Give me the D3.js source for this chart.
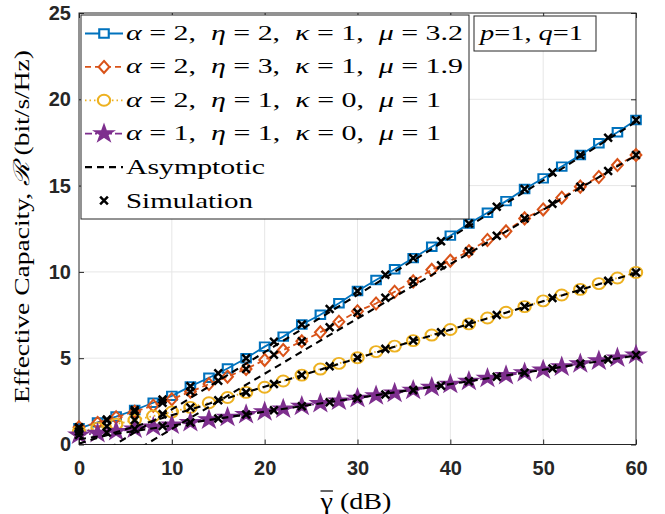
<!DOCTYPE html>
<html>
<head>
<meta charset="utf-8">
<script src="https://cdn.jsdelivr.net/npm/d3@7"></script>
<style>
  body { margin: 0; background: #fff; }
  svg { display: block; }
  .axis text { font-family: 'Liberation Sans', Arial, sans-serif; font-weight: bold; font-size: 20px; fill: #262626; }
  .axis line { stroke: #262626; }
  .latex { font-family: 'Liberation Serif', 'Times New Roman', serif; fill: #000; }
</style>
</head>
<body>
<svg width="665" height="514"></svg>
<script>
/* globals d3: true */

const gammaDb = [0, 2, 4, 6, 8, 10, 12, 14, 16, 18, 20, 22, 24, 26, 28, 30,
  32, 34, 36, 38, 40, 42, 44, 46, 48, 50, 52, 54, 56, 58, 60];
const blueCap = [0.94, 1.28, 1.62, 2.0, 2.42, 2.82, 3.37, 3.87, 4.4, 5.0, 5.67,
  6.25, 6.95, 7.52, 8.18, 8.89, 9.53, 10.15, 10.8, 11.46, 12.1, 12.8, 13.43,
  14.1, 14.8, 15.42, 16.1, 16.77, 17.45, 18.09, 18.8];
const orangeCap = [1.0, 1.25, 1.58, 1.9, 2.25, 2.62, 3.06, 3.5, 3.93, 4.38, 4.9,
  5.47, 5.98, 6.5, 7.11, 7.72, 8.17, 8.85, 9.45, 10.12, 10.65, 11.2, 11.85,
  12.35, 13.1, 13.62, 14.3, 14.94, 15.5, 16.19, 16.77];
const yellowCap = [0.75, 0.95, 1.18, 1.42, 1.65, 1.88, 2.15, 2.42, 2.72, 3.02,
  3.32, 3.68, 4.02, 4.37, 4.7, 5.03, 5.38, 5.7, 6.02, 6.34, 6.66, 6.99, 7.33,
  7.66, 7.99, 8.32, 8.66, 8.99, 9.32, 9.65, 9.97];
const purpleCap = [0.55, 0.65, 0.76, 0.9, 1.02, 1.13, 1.28, 1.43, 1.58, 1.74,
  1.9, 2.06, 2.22, 2.38, 2.52, 2.68, 2.83, 2.98, 3.15, 3.32, 3.49, 3.67, 3.84,
  4.0, 4.16, 4.32, 4.5, 4.68, 4.85, 5.02, 5.19];

// simulation points, every 3 dB
const simDb = [0, 3, 6, 9, 12, 15, 18, 21, 24, 27, 30, 33, 36, 39, 42, 45, 48,
  51, 54, 57, 60];
const blueSim = [0.94, 1.45, 2.0, 2.6, 3.37, 4.13, 5.0, 5.95, 6.95, 7.85, 8.89,
  9.84, 10.8, 11.78, 12.8, 13.77, 14.8, 15.76, 16.77, 17.77, 18.8];
const orangeSim = [1.0, 1.4, 1.9, 2.42, 3.06, 3.7, 4.38, 5.2, 5.98, 6.8, 7.65,
  8.5, 9.45, 10.38, 11.2, 12.1, 13.1, 13.95, 14.94, 15.85, 16.77];
const yellowSim = [0.75, 1.06, 1.42, 1.76, 2.15, 2.57, 3.02, 3.5, 4.02, 4.53,
  5.03, 5.54, 6.02, 6.5, 6.99, 7.5, 7.99, 8.49, 8.99, 9.48, 9.97];
const purpleSim = [0.55, 0.7, 0.9, 1.07, 1.28, 1.5, 1.74, 1.98, 2.22, 2.45,
  2.68, 2.9, 3.15, 3.4, 3.67, 3.92, 4.16, 4.41, 4.68, 4.93, 5.19];

// asymptotic lines
const asymDb = [0, 10, 20, 30, 40, 50, 60];
const blueAsym = [-1.3, 2.03, 5.35, 8.67, 11.99, 15.3, 18.7];
const orangeAsym = [-2.3, 0.9, 4.1, 7.3, 10.45, 13.6, 16.75];
const yellowAsym = [0.05, 1.7, 3.35, 5.0, 6.65, 8.3, 9.95];
const purpleAsym = [0.3, 1.1, 1.9, 2.7, 3.5, 4.33, 5.15];

const xTicks = [0, 10, 20, 30, 40, 50, 60];
const yTicks = [0, 5, 10, 15, 20, 25];

(function() {
  'use strict';

  const margin = {top: 13, right: 29, bottom: 69.5, left: 79};
  const svg = d3.select('svg');
  const width = +svg.attr('width') - margin.left - margin.right;
  const height = +svg.attr('height') - margin.top - margin.bottom;

  const x = d3.scaleLinear().domain([0, 60]).range([0, width]);
  const y = d3.scaleLinear().domain([0, 25]).range([height, 0]);

  const g = svg.append('g')
      .attr('transform', 'translate(' + margin.left + ',' + margin.top + ')');

  g.append('defs')
      .append('clipPath')
      .attr('id', 'clip')
      .append('rect')
      .attr('width', width)
      .attr('height', height);

  // grid
  g.append('g')
      .selectAll('line')
      .data(xTicks.slice(1, -1))
      .join('line')
      .attr('x1', (d) => x(d)).attr('x2', (d) => x(d))
      .attr('y1', 0).attr('y2', height)
      .attr('stroke', '#e6e6e6');
  g.append('g')
      .selectAll('line')
      .data(yTicks.slice(1, -1))
      .join('line')
      .attr('x1', 0).attr('x2', width)
      .attr('y1', (d) => y(d)).attr('y2', (d) => y(d))
      .attr('stroke', '#e6e6e6');

  // axes, ticks pointing inward
  g.append('g')
      .attr('class', 'axis')
      .attr('transform', 'translate(0,' + height + ')')
      .call(d3.axisBottom(x).tickValues(xTicks).tickSize(-5).tickPadding(16));
  g.append('g')
      .attr('class', 'axis')
      .call(d3.axisLeft(y).tickValues(yTicks).tickSize(-5).tickPadding(8));
  g.append('g')
      .attr('class', 'axis')
      .call(d3.axisTop(x).tickValues(xTicks).tickSize(-5).tickFormat(''));
  g.append('g')
      .attr('class', 'axis')
      .attr('transform', 'translate(' + width + ',0)')
      .call(d3.axisRight(y).tickValues(yTicks).tickSize(-5).tickFormat(''));
  g.selectAll('.axis .domain').remove();

  g.append('rect')
      .attr('width', width)
      .attr('height', height)
      .attr('fill', 'none')
      .attr('stroke', '#262626');

  // marker shapes
  const diamond = {
    draw(ctx, size) {
      const h = Math.sqrt(size) / 2;
      const w = h * 0.8;
      ctx.moveTo(0, -h);
      ctx.lineTo(w, 0);
      ctx.lineTo(0, h);
      ctx.lineTo(-w, 0);
      ctx.closePath();
    },
  };
  const times = {
    draw(ctx, size) {
      const r = Math.sqrt(size) / 2;
      ctx.moveTo(-r, -r);
      ctx.lineTo(r, r);
      ctx.moveTo(r, -r);
      ctx.lineTo(-r, r);
    },
  };

  const series = [
    {
      vals: blueCap, sim: blueSim, asym: blueAsym, color: '#0072BD',
      dash: null, symbol: d3.symbolSquare, size: 72, fill: 'none',
      label: [['α', 1], [' = 2,  ', 0], ['η', 1], [' = 2,  ', 0], ['κ', 1],
        [' = 1,  ', 0], ['μ', 1], [' = 3.2', 0]],
      labelWidth: 337,
    },
    {
      vals: orangeCap, sim: orangeSim, asym: orangeAsym, color: '#D95319',
      dash: '6,4', symbol: diamond, size: 144, fill: 'none',
      label: [['α', 1], [' = 2,  ', 0], ['η', 1], [' = 3,  ', 0], ['κ', 1],
        [' = 1,  ', 0], ['μ', 1], [' = 1.9', 0]],
      labelWidth: 337,
    },
    {
      vals: yellowCap, sim: yellowSim, asym: yellowAsym, color: '#EDB120',
      dash: '1.5,3', symbol: d3.symbolCircle, size: 95, fill: 'none',
      label: [['α', 1], [' = 2,  ', 0], ['η', 1], [' = 1,  ', 0], ['κ', 1],
        [' = 0,  ', 0], ['μ', 1], [' = 1', 0]],
      labelWidth: 315,
    },
    {
      vals: purpleCap, sim: purpleSim, asym: purpleAsym, color: '#7E2F8E',
      dash: '7,3,2,3', symbol: d3.symbolStar, size: 75, fill: '#7E2F8E',
      label: [['α', 1], [' = 1,  ', 0], ['η', 1], [' = 1,  ', 0], ['κ', 1],
        [' = 0,  ', 0], ['μ', 1], [' = 1', 0]],
      labelWidth: 315,
    },
  ];

  const line = d3.line()
      .x((d) => x(d[0]))
      .y((d) => y(d[1]));

  const plot = g.append('g');

  series.forEach((s) => {
    const pts = gammaDb.map((d, i) => [d, s.vals[i]]);
    plot.append('path')
        .datum(pts)
        .attr('d', line)
        .attr('fill', 'none')
        .attr('stroke', s.color)
        .attr('stroke-width', 1.8)
        .attr('stroke-dasharray', s.dash);
    plot.append('g')
        .selectAll('path')
        .data(pts)
        .join('path')
        .attr('transform', (d) => 'translate(' + x(d[0]) + ',' + y(d[1]) +
            ') scale(1.12,1)')
        .attr('d', d3.symbol(s.symbol, s.size))
        .attr('fill', s.fill)
        .attr('stroke', s.color)
        .attr('stroke-width', 1.9);
  });

  // asymptotic lines on top, clipped to the axes
  const asymG = plot.append('g').attr('clip-path', 'url(#clip)');
  series.forEach((s) => {
    asymG.append('path')
        .datum(asymDb.map((d, i) => [d, s.asym[i]]))
        .attr('d', line)
        .attr('fill', 'none')
        .attr('stroke', '#000')
        .attr('stroke-width', 2.1)
        .attr('stroke-dasharray', '7,5');
  });

  // simulation crosses
  series.forEach((s) => {
    plot.append('g')
        .selectAll('path')
        .data(simDb.map((d, i) => [d, s.sim[i]]))
        .join('path')
        .attr('transform', (d) => 'translate(' + x(d[0]) + ',' + y(d[1]) + ')')
        .attr('d', d3.symbol(times, 60))
        .attr('fill', 'none')
        .attr('stroke', '#000')
        .attr('stroke-width', 2.5);
  });

  // legend
  const leg = svg.append('g');
  leg.append('rect')
      .attr('x', 81).attr('y', 15)
      .attr('width', 388).attr('height', 204)
      .attr('fill', '#fff')
      .attr('stroke', '#262626');

  const rowY = (i) => 33.5 + i * 33.4;
  const sampleX = [85, 123];

  series.forEach((s, i) => {
    const cy = rowY(i);
    leg.append('line')
        .attr('x1', sampleX[0]).attr('x2', sampleX[1])
        .attr('y1', cy).attr('y2', cy)
        .attr('stroke', s.color)
        .attr('stroke-width', 1.8)
        .attr('stroke-dasharray', s.dash);
    leg.append('path')
        .attr('transform', 'translate(104,' + cy + ') scale(1.12,1)')
        .attr('d', d3.symbol(s.symbol, s.size))
        .attr('fill', s.fill === 'none' ? '#fff' : s.fill)
        .attr('stroke', s.color)
        .attr('stroke-width', 1.9);
    const t = leg.append('text')
        .attr('class', 'latex')
        .attr('x', 126)
        .attr('y', cy + 6.5)
        .attr('font-size', 20)
        .attr('textLength', s.labelWidth)
        .attr('lengthAdjust', 'spacingAndGlyphs')
        .style('white-space', 'pre');
    s.label.forEach((p) => {
      t.append('tspan')
          .attr('font-style', p[1] ? 'italic' : 'normal')
          .text(p[0]);
    });
  });

  leg.append('line')
      .attr('x1', sampleX[0]).attr('x2', sampleX[1])
      .attr('y1', rowY(4)).attr('y2', rowY(4))
      .attr('stroke', '#000')
      .attr('stroke-width', 2.1)
      .attr('stroke-dasharray', '7,5');
  leg.append('text')
      .attr('class', 'latex')
      .attr('x', 126).attr('y', rowY(4) + 7)
      .attr('font-size', 21)
      .attr('textLength', 139)
      .attr('lengthAdjust', 'spacingAndGlyphs')
      .text('Asymptotic');

  leg.append('path')
      .attr('transform', 'translate(104,' + rowY(5) + ')')
      .attr('d', d3.symbol(times, 60))
      .attr('stroke', '#000')
      .attr('stroke-width', 2.5);
  leg.append('text')
      .attr('class', 'latex')
      .attr('x', 126).attr('y', rowY(5) + 7)
      .attr('font-size', 21)
      .attr('textLength', 127)
      .attr('lengthAdjust', 'spacingAndGlyphs')
      .text('Simulation');

  // p, q annotation
  svg.append('rect')
      .attr('x', 474).attr('y', 16)
      .attr('width', 122).attr('height', 35)
      .attr('fill', '#fff')
      .attr('stroke', '#262626');
  const pq = svg.append('text')
      .attr('class', 'latex')
      .attr('x', 480).attr('y', 40)
      .attr('font-size', 20)
      .attr('textLength', 103)
      .attr('lengthAdjust', 'spacingAndGlyphs')
      .style('white-space', 'pre');
  [['p', 1], ['=1, ', 0], ['q', 1], ['=1', 0]].forEach((p) => {
    pq.append('tspan')
        .attr('font-style', p[1] ? 'italic' : 'normal')
        .text(p[0]);
  });

  // axis labels
  const yl = svg.append('text')
      .attr('class', 'latex')
      .attr('transform', 'translate(29,226.5) rotate(-90)')
      .attr('text-anchor', 'middle')
      .attr('font-size', 22)
      .attr('textLength', 353)
      .attr('lengthAdjust', 'spacingAndGlyphs');
  yl.append('tspan').text('Effective Capacity, ');
  yl.append('tspan').attr('font-style', 'italic').text('ℛ');
  yl.append('tspan').text(' (bit/s/Hz)');

  const xl = svg.append('text')
      .attr('class', 'latex')
      .attr('x', 356).attr('y', 509)
      .attr('text-anchor', 'middle')
      .attr('font-size', 24)
      .attr('textLength', 71)
      .attr('lengthAdjust', 'spacingAndGlyphs')
      .style('white-space', 'pre');
  xl.append('tspan').text('γ');
  xl.append('tspan').text(' (dB)');

  // bar over gamma
  const node = xl.node();
  const a = node.getStartPositionOfChar(0);
  const b = node.getEndPositionOfChar(0);
  svg.append('line')
      .attr('x1', a.x).attr('x2', b.x)
      .attr('y1', 491).attr('y2', 491)
      .attr('stroke', '#000')
      .attr('stroke-width', 1.2);
})();
</script>
</body>
</html>
